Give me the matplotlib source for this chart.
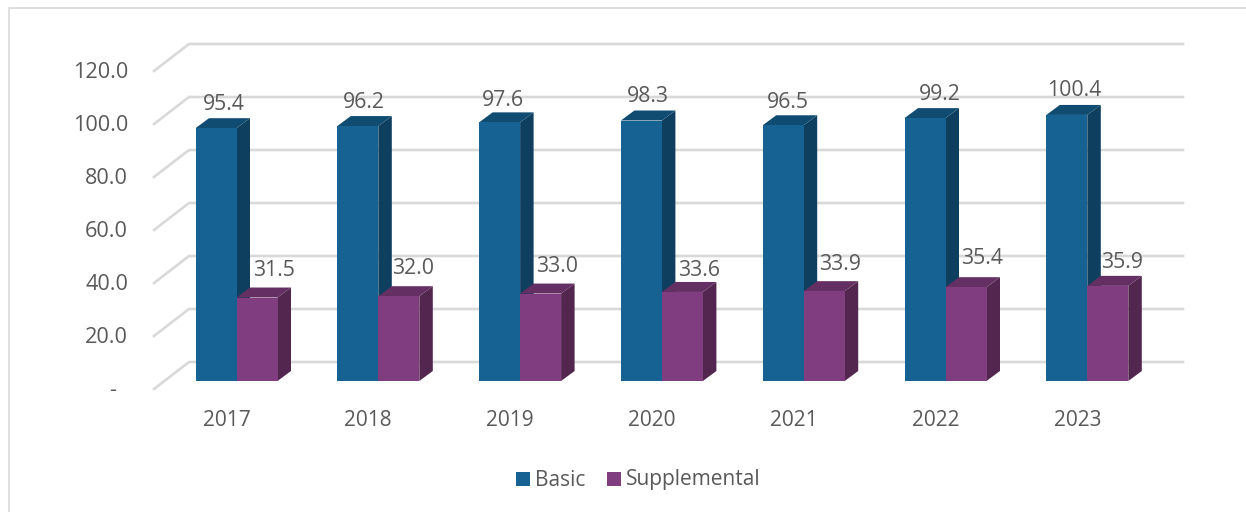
import numpy as np
import matplotlib
matplotlib.use("Agg")
import matplotlib.pyplot as plt
from matplotlib.patches import Polygon, Rectangle

years = ['2017', '2018', '2019', '2020', '2021', '2022', '2023']
basic = [95.4, 96.2, 97.6, 98.3, 96.5, 99.2, 100.4]
supplemental = [31.5, 32.0, 33.0, 33.6, 33.9, 35.4, 35.9]
y_ticks = [0, 20, 40, 60, 80, 100, 120]
y_labels = ['-', '20.0', '40.0', '60.0', '80.0', '100.0', '120.0']

W, H = 1246, 512
# scales: one category = 141.8 px, one value unit = 2.65 px
PX_X = 141.8
PX_Y = 2.65
X0 = 236.5   # pixel x of the first category
Y0 = 381.0   # pixel y of value 0 on the bar front

plt.rcParams['font.family'] = ['Open Sans', 'DejaVu Sans']
TEXT = '#595959'
GRID = '#D9D9D9'

fig = plt.figure(figsize=(W / 100, H / 100), dpi=100)
ax = fig.add_axes([0, 0, 1, 1])
ax.set_xlim(-X0 / PX_X, (W - X0) / PX_X)
ax.set_ylim(-(H - Y0) / PX_Y, Y0 / PX_Y)
ax.axis('off')


def dx(px):
    return px / PX_X


def dy(px):
    return -px / PX_Y


# grey frame of the chart
ax.add_patch(Rectangle((dx(8.5) - X0 / PX_X, dy(H + 5 - Y0)), dx(W + 20), (H - 2.5) / PX_Y,
                       fill=False, ec='#D9D9D9', lw=1.2))

# walls: gridlines on the back and on the left side
left_front = dx(154) - X0 / PX_X
left_back = dx(189) - X0 / PX_X
right_back = dx(1183) - X0 / PX_X
for t, lab in zip(y_ticks, y_labels):
    front_y = t + dy(8)
    back_y = t - dy(19)
    ax.plot([left_front, left_back, right_back], [front_y, back_y, back_y],
            color=GRID, lw=1.9, solid_joinstyle='miter', zorder=1)
    # the zero label is a dash that sits left of the number edge
    label_x = 116 if t == 0 else 128
    ax.text(dx(label_x) - X0 / PX_X, t + dy(9.5), lab, ha='right', va='center',
            fontsize=15.6, color=TEXT, zorder=5)

bar_w = 41 / PX_X
depth_x = dx(13.5)
depth_y = dy(-10)


def draw_bar(left, value, front, top, side, z):
    right = left + bar_w
    ax.add_patch(Polygon([(right, 0), (right + depth_x, depth_y),
                          (right + depth_x, value + depth_y), (right, value)],
                         fc=side, ec='none', zorder=z))
    ax.add_patch(Polygon([(left, value), (right, value),
                          (right + depth_x, value + depth_y), (left + depth_x, value + depth_y)],
                         fc=top, ec='none', zorder=z))
    ax.add_patch(Rectangle((left, 0), bar_w, value, fc=front, ec='none', zorder=z + 0.1))


basic_nudge_x = [-13, -14, -17, -14, -16, -6, -13]
basic_label_y = [105, 102, 100, 96, 102, 94, 91]
supp_nudge_x = [37, 35, 37, 37, 36, 36, 35]
supp_label_y = [270, 269, 267, 270, 264, 258, 262]

for i, year in enumerate(years):
    draw_bar(i - bar_w, basic[i], '#156293', '#104C72', '#0E3F5F', 2)
    draw_bar(i, supplemental[i], '#803E81', '#642F63', '#52264F', 3)
    ax.text(i + dx(basic_nudge_x[i]), (Y0 - basic_label_y[i]) / PX_Y, f'{basic[i]:.1f}',
            ha='center', va='center', fontsize=15.3, color=TEXT, zorder=6)
    ax.text(i + dx(supp_nudge_x[i]), (Y0 - supp_label_y[i]) / PX_Y, f'{supplemental[i]:.1f}',
            ha='center', va='center', fontsize=15.3, color=TEXT, zorder=6)
    ax.text(i - dx(10), dy(40), year, ha='center', va='center', fontsize=15, color=TEXT)

# legend, placed by hand like the reference
leg_y = dy(99)
for px, colour, name in [(516, '#156293', 'Basic'), (607, '#803E81', 'Supplemental')]:
    ax.add_patch(Rectangle((dx(px) - X0 / PX_X, leg_y - dy(-7) + dy(-1.5)), dx(14), dy(-14), fc=colour, ec='none'))
    ax.text(dx(px + 19) - X0 / PX_X, leg_y, name, ha='left', va='center',
            fontsize=15, color=TEXT)

fig.savefig('out.png', dpi=100)
